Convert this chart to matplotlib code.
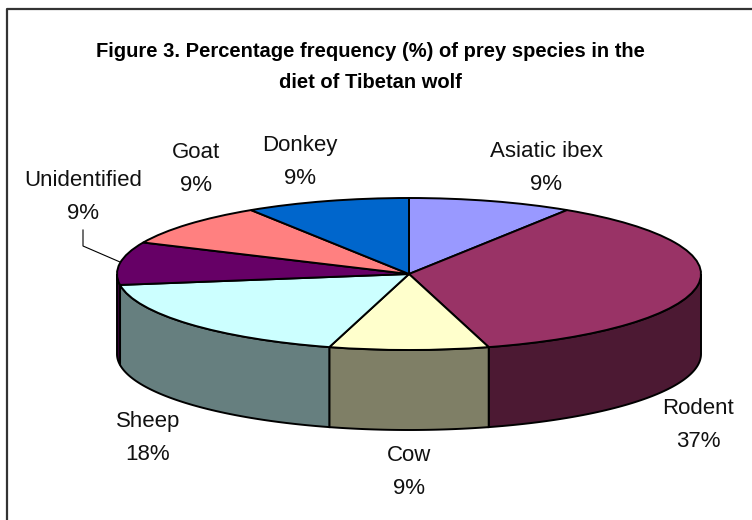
import numpy as np
import matplotlib
matplotlib.use('Agg')
import matplotlib.pyplot as plt

plt.rcParams['font.family'] = ['Liberation Sans', 'DejaVu Sans']

species = ['Asiatic ibex', 'Rodent', 'Cow', 'Sheep', 'Unidentified', 'Goat', 'Donkey']
share = [9.1, 36.5, 8.8, 18.3, 9.1, 9.1, 9.1]
percent_labels = ['9%', '37%', '9%', '18%', '9%', '9%', '9%']
top_colors = ['#9999FF', '#993366', '#FFFFCC', '#CCFFFF', '#660066', '#FF8080', '#0066CC']
side_colors = ['#4C4C7F', '#4C1933', '#7F7F66', '#667F7F', '#330033', '#7F4040', '#003366']
title = 'Figure 3. Percentage frequency (%) of prey species in the\ndiet of Tibetan wolf'

W, H = 752, 520
cx, cy, rx, ry, depth = 409, 274, 292, 76, 80


# pixel position -> pie units
def px(x, y):
    return (x - cx) / rx, (cy - y) / ry


fig = plt.figure(figsize=(W / 100, H / 100), dpi=100)
ax = fig.add_axes([0, 0, 1, 1])

# top of the pie
ax.pie(share, colors=top_colors, startangle=90, counterclock=False, radius=1,
       wedgeprops={'edgecolor': 'black', 'linewidth': 1.4, 'zorder': 3})

ax.set_aspect('auto')
ax.set_xlim(px(0, 0)[0], px(W, 0)[0])
ax.set_ylim(px(0, H)[1], px(0, 0)[1])
ax.axis('off')

# side wall, only the front half of the rim can be seen
d = depth / ry
edges = np.cumsum([0] + share) / sum(share) * 360
for i in range(len(share)):
    a0 = max(edges[i], 90)
    a1 = min(edges[i + 1], 270)
    if a1 <= a0:
        continue
    t = np.radians(np.linspace(a0, a1, 80))
    xs = np.concatenate([np.sin(t), np.sin(t[::-1])])
    ys = np.concatenate([np.cos(t), np.cos(t[::-1]) - d])
    ax.fill(xs, ys, facecolor=side_colors[i], edgecolor='black', linewidth=1.4, zorder=2)

# labels
label_pos = {'Asiatic ibex': (546, 168), 'Rodent': (698, 425), 'Cow': (409, 472),
             'Sheep': (148, 438), 'Unidentified': (83, 197), 'Goat': (196, 169),
             'Donkey': (300, 162)}
for name, lab in zip(species, percent_labels):
    lx, ly = px(*label_pos[name])
    ax.text(lx, ly, f'{name}\n{lab}', ha='center', va='center', fontsize=16,
            color='#111111', linespacing=1.72, zorder=5)

# leader line for Unidentified
lead = np.array([px(83, 230), px(83, 246), px(120, 262)])
ax.plot(lead[:, 0], lead[:, 1], color='black', lw=0.8, zorder=1)

# chart frame, only left and top make it into the crop
x0, y0 = px(6.5, 9)
x1, y1 = px(W, H)
ax.plot([x0, x0, x1], [y1, y0, y0], color='#333333', lw=1.6, zorder=0)

tx, ty = px(370, 67)
ax.text(tx, ty, title, ha='center', va='center', fontsize=14.5, fontweight='bold',
        color='black', linespacing=1.85, zorder=5)

fig.savefig('out.png', dpi=100)
